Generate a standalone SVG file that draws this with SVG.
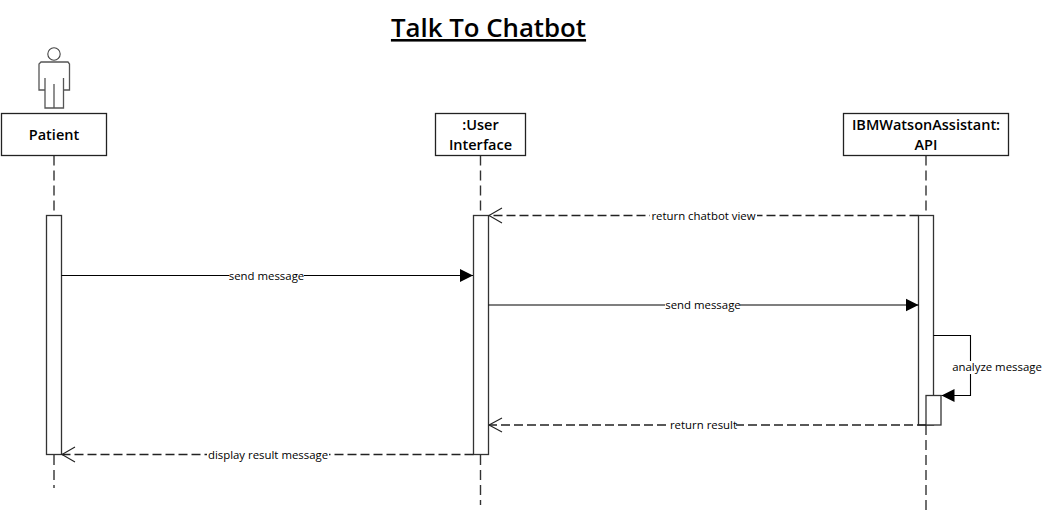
<svg xmlns="http://www.w3.org/2000/svg" width="1050" height="510" viewBox="0 0 1050 510">
<style>
text{font-family:"Open Sans","Liberation Sans",sans-serif;fill:#000;text-anchor:middle}
.t{font-size:25.800px;font-weight:600;text-decoration:underline}
.n{font-size:14.500px;font-weight:600}
.m{font-size:11.400px}
.box{fill:#fff;stroke:#222;stroke-width:1.300}
.act{fill:#fff;stroke:#333;stroke-width:1.300}
.life{stroke:#333;stroke-width:1.400;stroke-dasharray:10 5;fill:none}
.c{stroke:#000;stroke-width:1.100;fill:none}
.d{stroke:#222;stroke-width:1.300;stroke-dasharray:9 4;fill:none}
.o{stroke:#222;stroke-width:1.100;fill:none}
.lb{fill:#fff;stroke:none}
</style>
<defs>
<marker id="solid" markerUnits="userSpaceOnUse" markerWidth="14" markerHeight="14" refX="13" refY="7" orient="auto"><path d="M0 .5L13 7L0 13.5Z" fill="#000"/></marker>
</defs>
<rect width="1050" height="510" fill="#fff"/>
<text class="t" x="488.500" y="37">Talk To Chatbot</text>
<g id="lifelines">
<path class="life" d="M54 155.500V215M54 455V488"/>
<path class="life" d="M480.500 155.500V215M480.500 455V505"/>
<path class="life" d="M926 155.500V215M926 425V510"/>
</g>
<g id="patient">
<circle cx="54" cy="54" r="6.200" fill="#fff" stroke="#444" stroke-width="1.100"/>
<path d="M41 62H68L69.500 64V90H63.500V108H45V90H39V64Z M45 78V90 M63.500 78V90 M54 84V108" fill="none" stroke="#555" stroke-width="1.300"/>
<rect class="box" x="1.500" y="113.500" width="105" height="42"/>
<text class="n" x="54" y="139.500">Patient</text>
<rect class="act" x="46.500" y="215.500" width="15" height="239"/>
</g>
<g id="user-interface">
<rect class="box" x="435.500" y="113.500" width="90" height="42"/>
<text class="n" x="480.500" y="130">:User</text>
<text class="n" x="480.500" y="150">Interface</text>
<rect class="act" x="473.500" y="215.500" width="15" height="239"/>
</g>
<g id="api">
<rect class="box" x="843.500" y="113.500" width="165" height="42"/>
<text class="n" x="926" y="130">IBMWatsonAssistant:</text>
<text class="n" x="926" y="150">API</text>
<rect class="act" x="918.500" y="215.500" width="15" height="209.500"/>
<rect class="act" x="926" y="395.500" width="15" height="29.500"/>
</g>
<g id="connectors">
<path class="d" d="M918.500 215.500H489"/><path class="o" d="M502 208L489 215.500L502 223"/>
<path class="c" d="M61.500 275.500H473" marker-end="url(#solid)"/>
<path class="c" d="M488.500 305H918.500" marker-end="url(#solid)"/>
<path class="c" d="M933.500 335.500H970.500V395.500H941.500" marker-end="url(#solid)"/>
<path class="d" d="M926 425H489"/><path class="o" d="M502 418L489 425L502 432"/>
<path class="d" d="M473.500 454.500H62"/><path class="o" d="M75 447L62 454.500L75 462"/>
<rect class="lb" x="650" y="209" width="107" height="13"/>
<text class="m" x="703.500" y="219.500">return chatbot view</text>
<rect class="lb" x="229" y="269" width="75" height="13"/>
<text class="m" x="266.500" y="279.500">send message</text>
<rect class="lb" x="665" y="298" width="75" height="13"/>
<text class="m" x="703" y="309">send message</text>
<rect class="lb" x="952" y="361" width="90" height="13"/>
<text class="m" x="997" y="371">analyze message</text>
<rect class="lb" x="669" y="418" width="67" height="13"/>
<text class="m" x="703.500" y="429">return result</text>
<rect class="lb" x="207" y="448" width="122" height="13"/>
<text class="m" x="268" y="458.500">display result message</text>
</g>
</svg>
